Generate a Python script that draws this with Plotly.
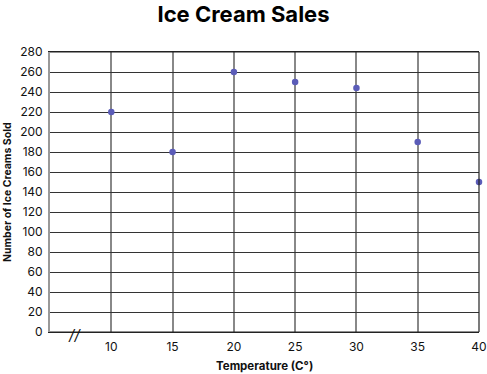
import plotly.graph_objects as go

temperature = [10, 15, 20, 25, 30, 35, 40]
ice_creams_sold = [220, 180, 260, 250, 244, 190, 150]
x_ticks = [10, 15, 20, 25, 30, 35, 40]
y_ticks = list(range(0, 281, 20))

FONT = "Inter"

fig = go.Figure()
fig.add_trace(go.Scatter(
    x=temperature, y=ice_creams_sold, mode="markers",
    marker=dict(color="#5b5cb8", size=6.5),
    cliponaxis=False, showlegend=False,
))

fig.add_annotation(x=7.0, y=0, text="<i>//</i>", showarrow=False,
                   xref="x", yref="y", yshift=-2,
                   font=dict(size=15, color="#111", family=FONT))
fig.add_annotation(x=0.5, y=-0.121, xref="paper", yref="paper", yanchor="middle",
                   text="<b>Temperature (C°)</b>", showarrow=False,
                   font=dict(size=11.5, color="#111", family=FONT))
fig.add_annotation(x=-0.1, y=0.5, xref="paper", yref="paper", xanchor="center",
                   text="<b>Number of Ice Creams Sold</b>", showarrow=False, textangle=-90,
                   font=dict(size=10.5, color="#111", family=FONT))

fig.update_layout(
    width=487, height=374,
    margin=dict(l=50, r=8, t=52, b=42),
    paper_bgcolor="white", plot_bgcolor="white",
    title=dict(text="<b>Ice Cream Sales</b>", x=0.5, xanchor="center",
               y=0.963, yanchor="middle",
               font=dict(size=22, color="#000", family=FONT)),
    font=dict(family=FONT, color="#111"),
    xaxis=dict(range=[5, 40], tickvals=x_ticks, ticktext=[str(v) for v in x_ticks],
               showgrid=True, gridcolor="#888", gridwidth=1.8,
               showline=True, linecolor="#222", linewidth=1.2, mirror=True,
               zeroline=False, ticks="outside", ticklen=3, tickcolor="white",
               automargin=False,
               tickfont=dict(size=12, color="#111")),
    yaxis=dict(range=[0, 280], tickvals=y_ticks,
               showgrid=True, gridcolor="#333", gridwidth=1.2,
               showline=True, linecolor="#999", linewidth=2,
               zeroline=False, ticks="outside", ticklen=3, tickcolor="white",
               automargin=False,
               tickfont=dict(size=12, color="#111")),
)
fig.add_shape(type="line", xref="paper", yref="paper", x0=0, x1=1, y0=1, y1=1,
              line=dict(color="#222", width=1.2))
fig.add_shape(type="line", xref="paper", yref="paper", x0=1, x1=1, y0=0, y1=1,
              line=dict(color="#222", width=1.2))
fig.add_shape(type="line", xref="paper", yref="paper", x0=0, x1=1, y0=0, y1=0,
              line=dict(color="#222", width=1.2))

fig.write_html("out.html", config={"displayModeBar": False},
               post_script="document.body.style.margin='0';")
